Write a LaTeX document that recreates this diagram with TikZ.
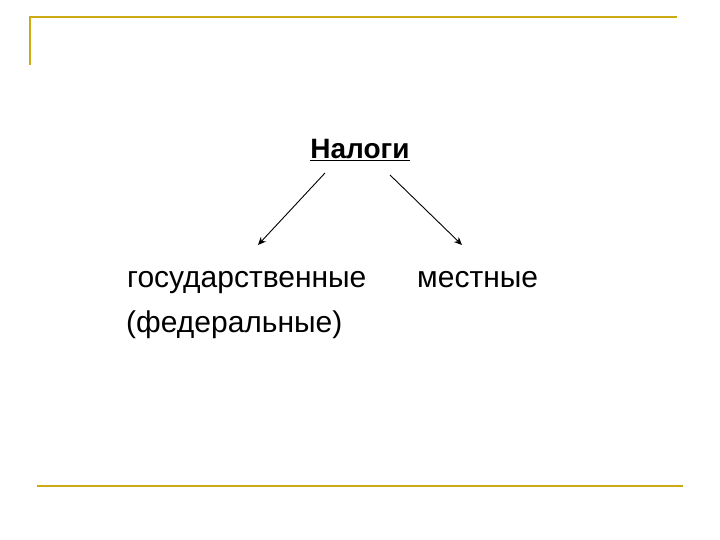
\documentclass[tikz,border=0pt]{standalone}
\usepackage{fontspec}
\setmainfont{Liberation Sans}
\usetikzlibrary{arrows.meta}
\definecolor{gold}{RGB}{204,170,20}
\begin{document}
\begin{tikzpicture}[x=1pt,y=-1pt,
  lbl/.style={inner sep=0pt,font=\fontsize{30}{36}\selectfont},
  arr/.style={-{Stealth[length=8pt,width=7pt]},line width=0.9pt}]
\useasboundingbox (0,0) rectangle (720,540);
\draw[gold,line width=1.8pt] (30,65) -- (30,17) -- (677,17);
\draw[gold,line width=1.8pt] (37,486) -- (683,486);
\node[lbl,font=\fontsize{28}{34}\selectfont\bfseries,anchor=base] (t) at (360,159) {\underline{Налоги}};
\coordinate (a1) at (325,173); \coordinate (a2) at (258,245);
\coordinate (b1) at (390,175); \coordinate (b2) at (462,245);
\draw[arr] (a1) -- (a2);
\draw[arr] (b1) -- (b2);
\node[lbl,anchor=base west] (g) at (127,287) {государственные};
\node[lbl,anchor=base west] (f) at (126,332) {(федеральные)};
\node[lbl,anchor=base west] (m) at (417,287) {местные};
\end{tikzpicture}
\end{document}
